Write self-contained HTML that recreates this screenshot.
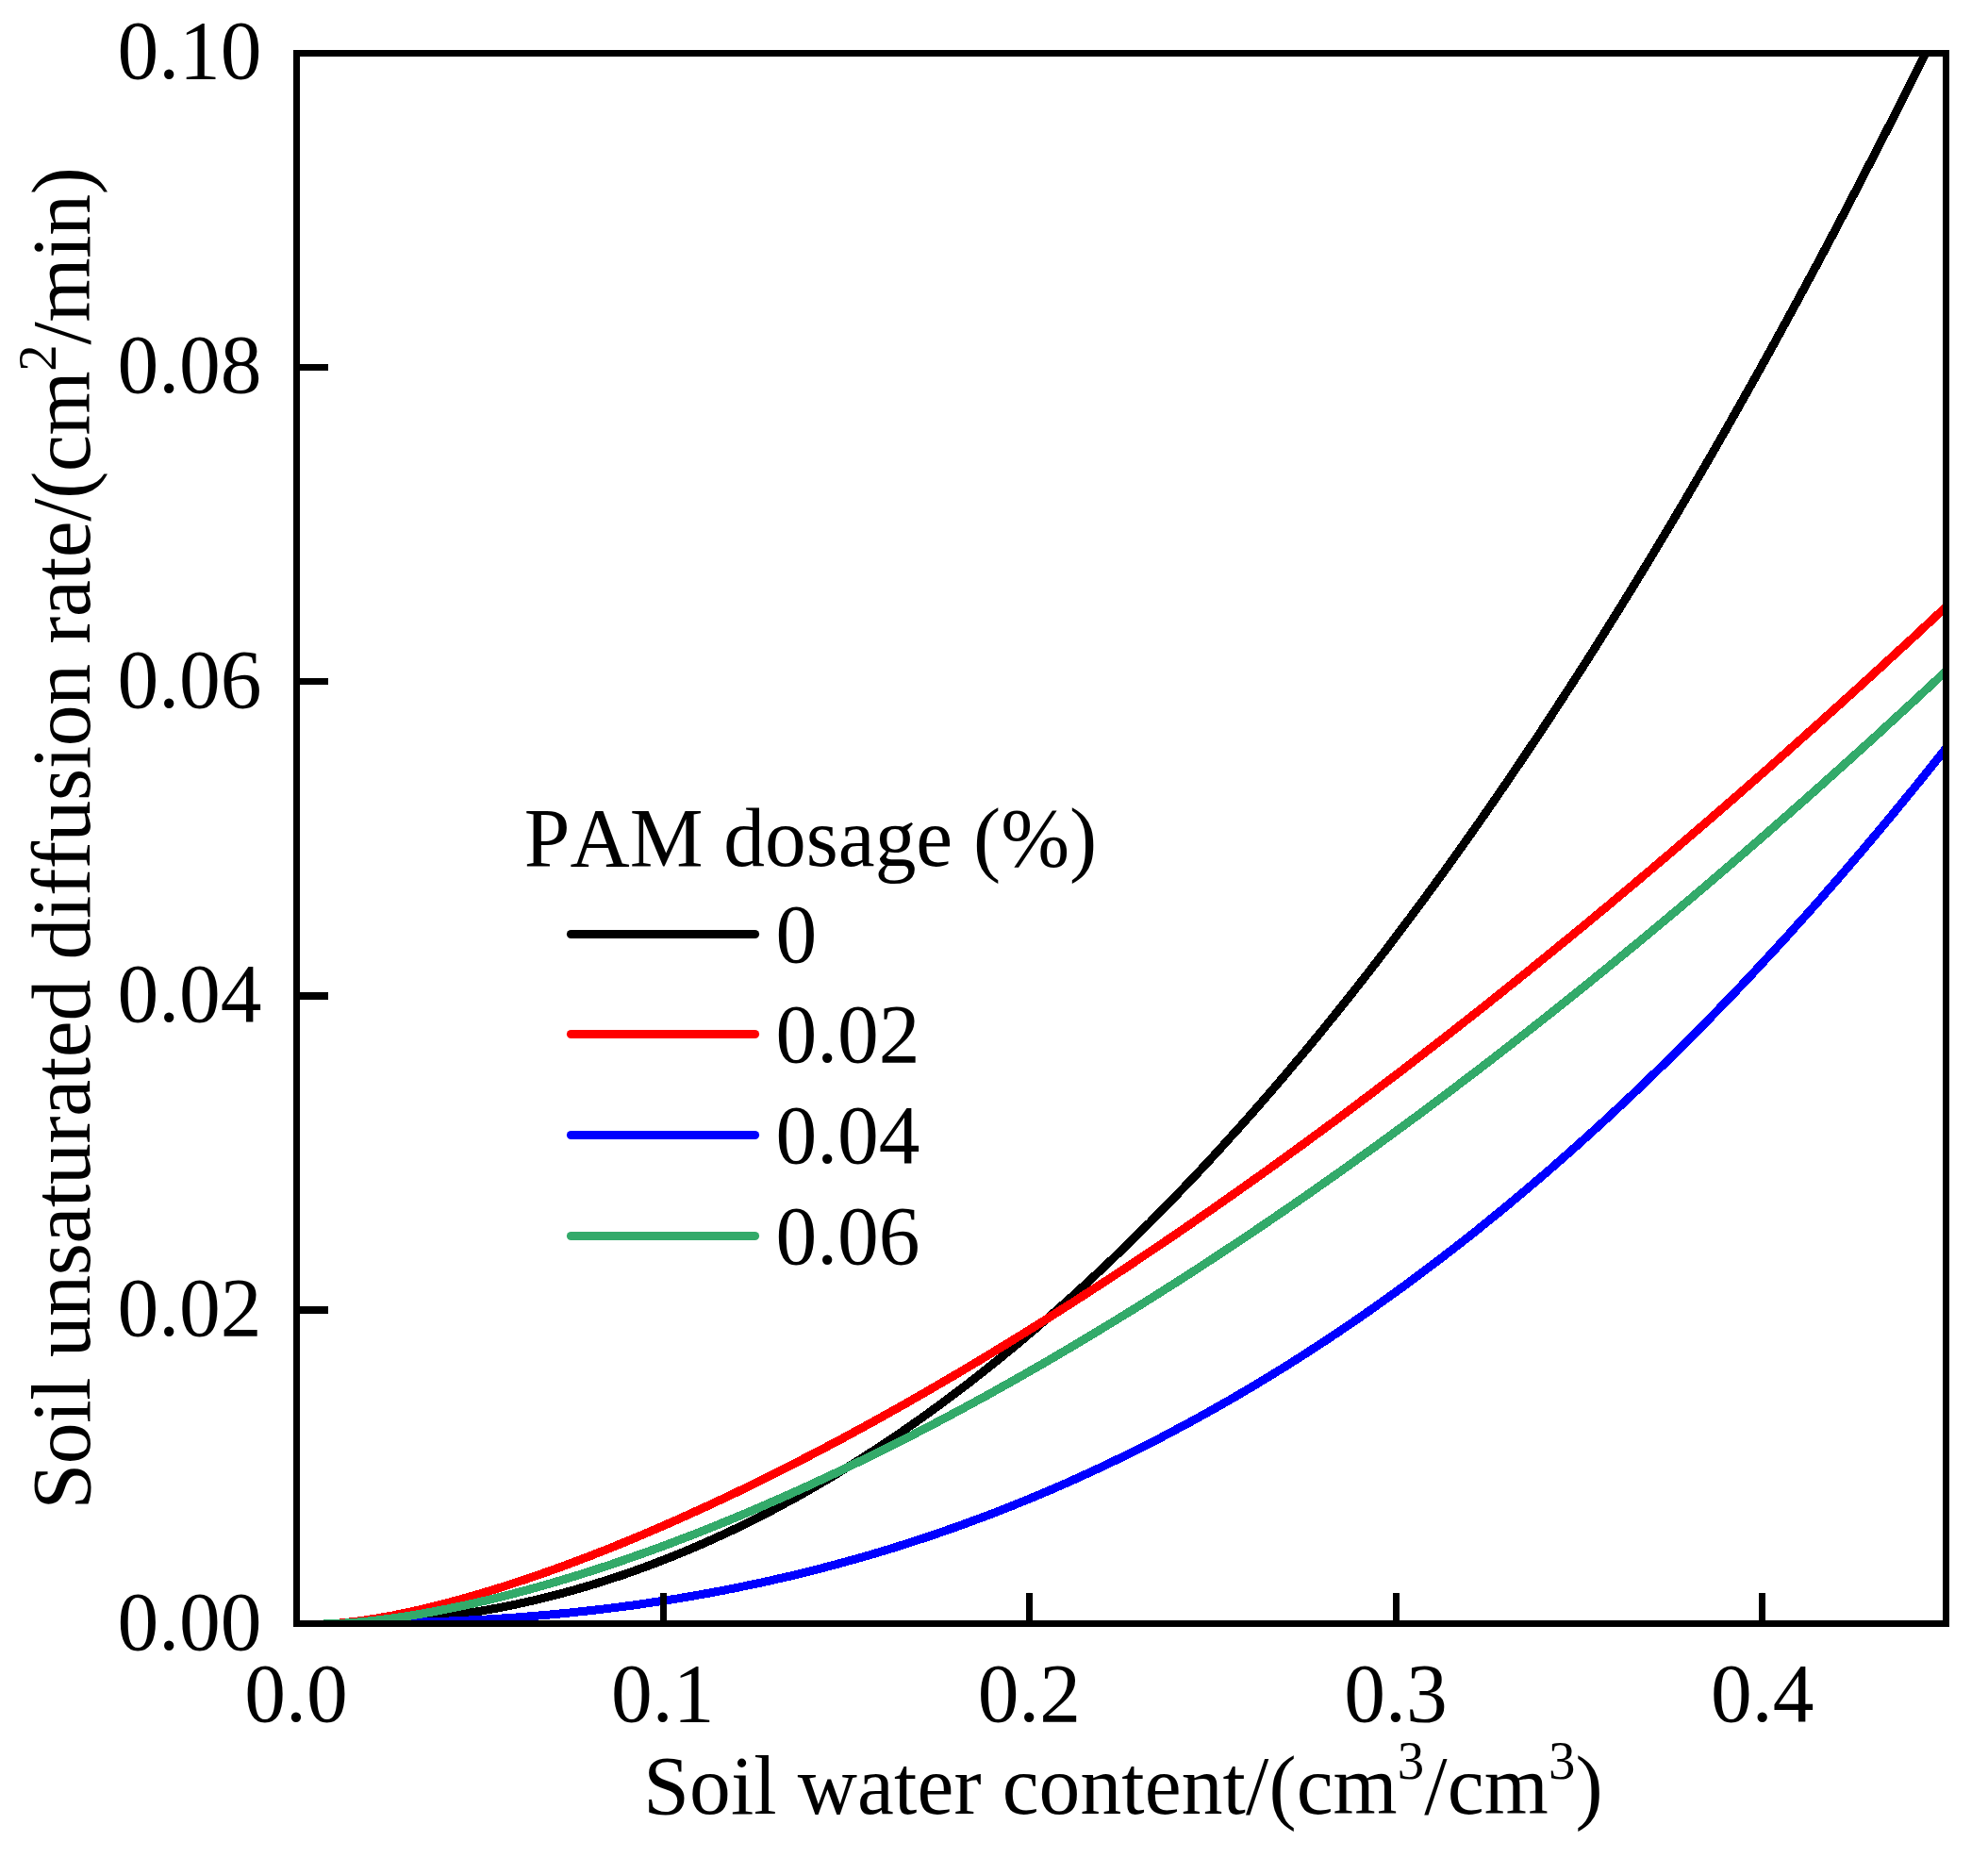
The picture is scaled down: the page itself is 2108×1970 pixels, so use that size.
<!DOCTYPE html>
<html><head><meta charset="utf-8"><title>Soil unsaturated diffusion rate</title>
<style>html,body{margin:0;padding:0;background:#fff}svg{display:block}</style></head>
<body>
<svg width="2108" height="1970" viewBox="0 0 2108 1970">
<defs><clipPath id="c"><rect x="318" y="60" width="1742" height="1658"/></clipPath></defs>
<rect x="0" y="0" width="2108" height="1970" fill="#ffffff"/>
<g clip-path="url(#c)" shape-rendering="crispEdges"><polyline points="343.0,1721.5 348.7,1721.5 356.0,1721.5 363.3,1721.4 370.5,1721.3 377.8,1721.1 385.0,1720.9 392.3,1720.6 399.5,1720.2 406.8,1719.9 414.1,1719.4 421.3,1718.9 428.6,1718.3 435.8,1717.7 443.1,1717.0 450.3,1716.3 457.6,1715.5 464.8,1714.7 472.1,1713.8 479.4,1712.8 486.6,1711.8 493.9,1710.7 501.1,1709.6 508.4,1708.4 515.6,1707.1 522.9,1705.8 530.1,1704.5 537.4,1703.0 544.7,1701.5 551.9,1700.0 559.2,1698.4 566.4,1696.7 573.7,1695.0 580.9,1693.2 588.2,1691.4 595.5,1689.5 602.7,1687.5 610.0,1685.5 617.2,1683.4 624.5,1681.3 631.7,1679.1 639.0,1676.8 646.2,1674.5 653.5,1672.1 660.8,1669.7 668.0,1667.2 675.3,1664.6 682.5,1662.0 689.8,1659.3 697.0,1656.5 704.3,1653.7 711.5,1650.9 718.8,1647.9 726.1,1644.9 733.3,1641.9 740.6,1638.8 747.8,1635.6 755.1,1632.4 762.3,1629.1 769.6,1625.7 776.9,1622.3 784.1,1618.8 791.4,1615.3 798.6,1611.7 805.9,1608.0 813.1,1604.3 820.4,1600.5 827.6,1596.6 834.9,1592.7 842.2,1588.8 849.4,1584.7 856.7,1580.6 863.9,1576.5 871.2,1572.2 878.4,1568.0 885.7,1563.6 892.9,1559.2 900.2,1554.7 907.5,1550.2 914.7,1545.6 922.0,1540.9 929.2,1536.2 936.5,1531.4 943.7,1526.6 951.0,1521.7 958.3,1516.7 965.5,1511.7 972.8,1506.6 980.0,1501.4 987.3,1496.2 994.5,1490.9 1001.8,1485.6 1009.0,1480.2 1016.3,1474.7 1023.6,1469.2 1030.8,1463.6 1038.1,1457.9 1045.3,1452.2 1052.6,1446.4 1059.8,1440.6 1067.1,1434.6 1074.3,1428.7 1081.6,1422.6 1088.9,1416.5 1096.1,1410.4 1103.4,1404.1 1110.6,1397.8 1117.9,1391.5 1125.1,1385.1 1132.4,1378.6 1139.7,1372.0 1146.9,1365.4 1154.2,1358.8 1161.4,1352.0 1168.7,1345.2 1175.9,1338.4 1183.2,1331.4 1190.4,1324.4 1197.7,1317.4 1205.0,1310.3 1212.2,1303.1 1219.5,1295.9 1226.7,1288.5 1234.0,1281.2 1241.2,1273.7 1248.5,1266.2 1255.7,1258.7 1263.0,1251.0 1270.3,1243.4 1277.5,1235.6 1284.8,1227.8 1292.0,1219.9 1299.3,1211.9 1306.5,1203.9 1313.8,1195.9 1321.1,1187.7 1328.3,1179.5 1335.6,1171.3 1342.8,1162.9 1350.1,1154.5 1357.3,1146.1 1364.6,1137.5 1371.8,1128.9 1379.1,1120.3 1386.4,1111.6 1393.6,1102.8 1400.9,1094.0 1408.1,1085.0 1415.4,1076.1 1422.6,1067.0 1429.9,1057.9 1437.1,1048.8 1444.4,1039.5 1451.7,1030.2 1458.9,1020.9 1466.2,1011.4 1473.4,1001.9 1480.7,992.4 1487.9,982.8 1495.2,973.1 1502.5,963.3 1509.7,953.5 1517.0,943.6 1524.2,933.7 1531.5,923.7 1538.7,913.6 1546.0,903.5 1553.2,893.3 1560.5,883.0 1567.8,872.7 1575.0,862.3 1582.3,851.8 1589.5,841.3 1596.8,830.7 1604.0,820.0 1611.3,809.3 1618.5,798.5 1625.8,787.7 1633.1,776.8 1640.3,765.8 1647.6,754.7 1654.8,743.6 1662.1,732.4 1669.3,721.2 1676.6,709.9 1683.9,698.5 1691.1,687.1 1698.4,675.6 1705.6,664.0 1712.9,652.4 1720.1,640.7 1727.4,628.9 1734.6,617.1 1741.9,605.2 1749.2,593.2 1756.4,581.2 1763.7,569.1 1770.9,557.0 1778.2,544.7 1785.4,532.5 1792.7,520.1 1799.9,507.7 1807.2,495.2 1814.5,482.7 1821.7,470.0 1829.0,457.4 1836.2,444.6 1843.5,431.8 1850.7,418.9 1858.0,406.0 1865.3,393.0 1872.5,379.9 1879.8,366.8 1887.0,353.6 1894.3,340.3 1901.5,327.0 1908.8,313.6 1916.0,300.1 1923.3,286.6 1930.6,273.0 1937.8,259.3 1945.1,245.6 1952.3,231.8 1959.6,217.9 1966.8,204.0 1974.1,190.0 1981.3,175.9 1988.6,161.8 1995.9,147.6 2003.1,133.4 2010.4,119.0 2017.6,104.7 2024.9,90.2 2032.1,75.7 2039.4,61.1 2046.7,46.4 2053.9,31.7 2061.2,16.9 2068.4,2.1 2075.7,-12.8 2082.9,-27.8" fill="none" stroke="#000000" stroke-width="9" stroke-linejoin="round"/>
<polyline points="343.0,1721.5 350.8,1721.5 358.0,1721.2 365.2,1720.6 372.5,1719.8 379.7,1718.9 387.0,1717.9 394.2,1716.8 401.5,1715.6 408.7,1714.3 416.0,1713.0 423.2,1711.5 430.5,1710.0 437.7,1708.5 445.0,1706.8 452.2,1705.1 459.5,1703.3 466.7,1701.5 474.0,1699.6 481.2,1697.7 488.5,1695.7 495.7,1693.7 503.0,1691.6 510.2,1689.5 517.4,1687.3 524.7,1685.1 531.9,1682.8 539.2,1680.5 546.4,1678.1 553.7,1675.7 560.9,1673.3 568.2,1670.8 575.4,1668.3 582.7,1665.7 589.9,1663.1 597.2,1660.5 604.4,1657.8 611.7,1655.1 618.9,1652.3 626.2,1649.6 633.4,1646.7 640.7,1643.9 647.9,1641.0 655.2,1638.1 662.4,1635.1 669.6,1632.1 676.9,1629.1 684.1,1626.0 691.4,1622.9 698.6,1619.8 705.9,1616.7 713.1,1613.5 720.4,1610.3 727.6,1607.0 734.9,1603.7 742.1,1600.4 749.4,1597.1 756.6,1593.7 763.9,1590.3 771.1,1586.9 778.4,1583.5 785.6,1580.0 792.9,1576.5 800.1,1572.9 807.4,1569.4 814.6,1565.8 821.8,1562.2 829.1,1558.5 836.3,1554.9 843.6,1551.2 850.8,1547.4 858.1,1543.7 865.3,1539.9 872.6,1536.1 879.8,1532.3 887.1,1528.4 894.3,1524.6 901.6,1520.7 908.8,1516.7 916.1,1512.8 923.3,1508.8 930.6,1504.8 937.8,1500.8 945.1,1496.7 952.3,1492.7 959.6,1488.6 966.8,1484.4 974.0,1480.3 981.3,1476.1 988.5,1471.9 995.8,1467.7 1003.0,1463.5 1010.3,1459.2 1017.5,1455.0 1024.8,1450.7 1032.0,1446.3 1039.3,1442.0 1046.5,1437.6 1053.8,1433.2 1061.0,1428.8 1068.3,1424.4 1075.5,1419.9 1082.8,1415.4 1090.0,1411.0 1097.3,1406.4 1104.5,1401.9 1111.8,1397.3 1119.0,1392.7 1126.2,1388.1 1133.5,1383.5 1140.7,1378.9 1148.0,1374.2 1155.2,1369.5 1162.5,1364.8 1169.7,1360.1 1177.0,1355.3 1184.2,1350.6 1191.5,1345.8 1198.7,1341.0 1206.0,1336.1 1213.2,1331.3 1220.5,1326.4 1227.7,1321.5 1235.0,1316.6 1242.2,1311.7 1249.5,1306.8 1256.7,1301.8 1264.0,1296.8 1271.2,1291.8 1278.4,1286.8 1285.7,1281.8 1292.9,1276.7 1300.2,1271.6 1307.4,1266.5 1314.7,1261.4 1321.9,1256.3 1329.2,1251.1 1336.4,1246.0 1343.7,1240.8 1350.9,1235.6 1358.2,1230.3 1365.4,1225.1 1372.7,1219.8 1379.9,1214.6 1387.2,1209.3 1394.4,1203.9 1401.7,1198.6 1408.9,1193.3 1416.2,1187.9 1423.4,1182.5 1430.6,1177.1 1437.9,1171.7 1445.1,1166.2 1452.4,1160.8 1459.6,1155.3 1466.9,1149.8 1474.1,1144.3 1481.4,1138.8 1488.6,1133.3 1495.9,1127.7 1503.1,1122.1 1510.4,1116.5 1517.6,1110.9 1524.9,1105.3 1532.1,1099.7 1539.4,1094.0 1546.6,1088.3 1553.9,1082.6 1561.1,1076.9 1568.4,1071.2 1575.6,1065.5 1582.8,1059.7 1590.1,1053.9 1597.3,1048.1 1604.6,1042.3 1611.8,1036.5 1619.1,1030.7 1626.3,1024.8 1633.6,1018.9 1640.8,1013.0 1648.1,1007.1 1655.3,1001.2 1662.6,995.3 1669.8,989.3 1677.1,983.4 1684.3,977.4 1691.6,971.4 1698.8,965.4 1706.1,959.4 1713.3,953.3 1720.6,947.2 1727.8,941.2 1735.0,935.1 1742.3,929.0 1749.5,922.9 1756.8,916.7 1764.0,910.6 1771.3,904.4 1778.5,898.2 1785.8,892.0 1793.0,885.8 1800.3,879.6 1807.5,873.3 1814.8,867.1 1822.0,860.8 1829.3,854.5 1836.5,848.2 1843.8,841.9 1851.0,835.6 1858.3,829.2 1865.5,822.9 1872.8,816.5 1880.0,810.1 1887.2,803.7 1894.5,797.3 1901.7,790.8 1909.0,784.4 1916.2,777.9 1923.5,771.4 1930.7,764.9 1938.0,758.4 1945.2,751.9 1952.5,745.4 1959.7,738.8 1967.0,732.3 1974.2,725.7 1981.5,719.1 1988.7,712.5 1996.0,705.9 2003.2,699.2 2010.5,692.6 2017.7,685.9 2025.0,679.3 2032.2,672.6 2039.4,665.9 2046.7,659.1 2053.9,652.4 2061.2,645.7 2068.4,638.9 2075.7,632.1 2082.9,625.3" fill="none" stroke="#ff0000" stroke-width="9" stroke-linejoin="round"/>
<polyline points="343.0,1721.5 343.0,1721.5 350.3,1721.5 357.6,1721.5 364.9,1721.4 372.1,1721.4 379.4,1721.3 386.7,1721.3 394.0,1721.2 401.3,1721.1 408.5,1721.0 415.8,1720.8 423.1,1720.7 430.4,1720.5 437.7,1720.3 444.9,1720.1 452.2,1719.9 459.5,1719.6 466.8,1719.4 474.1,1719.1 481.3,1718.8 488.6,1718.4 495.9,1718.1 503.2,1717.7 510.5,1717.3 517.7,1716.9 525.0,1716.4 532.3,1716.0 539.6,1715.5 546.9,1715.0 554.1,1714.4 561.4,1713.8 568.7,1713.2 576.0,1712.6 583.3,1712.0 590.5,1711.3 597.8,1710.6 605.1,1709.9 612.4,1709.1 619.7,1708.3 626.9,1707.5 634.2,1706.7 641.5,1705.8 648.8,1704.9 656.1,1704.0 663.3,1703.0 670.6,1702.1 677.9,1701.1 685.2,1700.0 692.5,1698.9 699.7,1697.8 707.0,1696.7 714.3,1695.6 721.6,1694.4 728.9,1693.1 736.1,1691.9 743.4,1690.6 750.7,1689.3 758.0,1687.9 765.3,1686.6 772.5,1685.1 779.8,1683.7 787.1,1682.2 794.4,1680.7 801.7,1679.2 808.9,1677.6 816.2,1676.0 823.5,1674.3 830.8,1672.7 838.1,1671.0 845.3,1669.2 852.6,1667.4 859.9,1665.6 867.2,1663.8 874.5,1661.9 881.7,1660.0 889.0,1658.0 896.3,1656.0 903.6,1654.0 910.9,1652.0 918.1,1649.9 925.4,1647.8 932.7,1645.6 940.0,1643.4 947.3,1641.2 954.5,1638.9 961.8,1636.6 969.1,1634.2 976.4,1631.8 983.7,1629.4 990.9,1627.0 998.2,1624.5 1005.5,1621.9 1012.8,1619.4 1020.1,1616.8 1027.3,1614.1 1034.6,1611.4 1041.9,1608.7 1049.2,1606.0 1056.5,1603.2 1063.7,1600.3 1071.0,1597.5 1078.3,1594.5 1085.6,1591.6 1092.9,1588.6 1100.1,1585.6 1107.4,1582.5 1114.7,1579.4 1122.0,1576.2 1129.3,1573.1 1136.5,1569.8 1143.8,1566.6 1151.1,1563.2 1158.4,1559.9 1165.7,1556.5 1172.9,1553.1 1180.2,1549.6 1187.5,1546.1 1194.8,1542.5 1202.1,1538.9 1209.3,1535.3 1216.6,1531.6 1223.9,1527.9 1231.2,1524.2 1238.5,1520.4 1245.7,1516.5 1253.0,1512.6 1260.3,1508.7 1267.6,1504.7 1274.9,1500.7 1282.1,1496.7 1289.4,1492.6 1296.7,1488.4 1304.0,1484.3 1311.3,1480.0 1318.5,1475.8 1325.8,1471.5 1333.1,1467.1 1340.4,1462.7 1347.7,1458.3 1354.9,1453.8 1362.2,1449.3 1369.5,1444.7 1376.8,1440.1 1384.1,1435.4 1391.3,1430.7 1398.6,1426.0 1405.9,1421.2 1413.2,1416.3 1420.5,1411.5 1427.7,1406.5 1435.0,1401.6 1442.3,1396.6 1449.6,1391.5 1456.9,1386.4 1464.1,1381.2 1471.4,1376.0 1478.7,1370.8 1486.0,1365.5 1493.3,1360.2 1500.5,1354.8 1507.8,1349.4 1515.1,1343.9 1522.4,1338.4 1529.7,1332.9 1536.9,1327.2 1544.2,1321.6 1551.5,1315.9 1558.8,1310.2 1566.1,1304.4 1573.3,1298.5 1580.6,1292.6 1587.9,1286.7 1595.2,1280.7 1602.5,1274.7 1609.7,1268.6 1617.0,1262.5 1624.3,1256.3 1631.6,1250.1 1638.9,1243.9 1646.1,1237.6 1653.4,1231.2 1660.7,1224.8 1668.0,1218.3 1675.3,1211.8 1682.5,1205.3 1689.8,1198.7 1697.1,1192.1 1704.4,1185.4 1711.7,1178.6 1718.9,1171.8 1726.2,1165.0 1733.5,1158.1 1740.8,1151.2 1748.1,1144.2 1755.3,1137.1 1762.6,1130.1 1769.9,1122.9 1777.2,1115.7 1784.5,1108.5 1791.7,1101.2 1799.0,1093.9 1806.3,1086.5 1813.6,1079.1 1820.9,1071.6 1828.1,1064.1 1835.4,1056.5 1842.7,1048.9 1850.0,1041.2 1857.3,1033.5 1864.5,1025.7 1871.8,1017.8 1879.1,1010.0 1886.4,1002.0 1893.7,994.1 1900.9,986.0 1908.2,977.9 1915.5,969.8 1922.8,961.6 1930.1,953.4 1937.3,945.1 1944.6,936.8 1951.9,928.4 1959.2,919.9 1966.5,911.4 1973.7,902.9 1981.0,894.3 1988.3,885.6 1995.6,876.9 2002.9,868.2 2010.1,859.4 2017.4,850.5 2024.7,841.6 2032.0,832.7 2039.3,823.7 2046.5,814.6 2053.8,805.5 2061.1,796.3 2068.4,787.1 2075.7,777.8 2082.9,768.5" fill="none" stroke="#0000ff" stroke-width="9" stroke-linejoin="round"/>
<polyline points="343.0,1721.5 351.5,1721.5 358.7,1721.3 366.0,1721.0 373.2,1720.5 380.5,1719.9 387.7,1719.3 394.9,1718.5 402.2,1717.7 409.4,1716.8 416.7,1715.8 423.9,1714.8 431.2,1713.7 438.4,1712.5 445.7,1711.3 452.9,1710.0 460.1,1708.7 467.4,1707.3 474.6,1705.9 481.9,1704.4 489.1,1702.9 496.4,1701.3 503.6,1699.7 510.9,1698.0 518.1,1696.3 525.3,1694.6 532.6,1692.8 539.8,1690.9 547.1,1689.0 554.3,1687.1 561.6,1685.1 568.8,1683.1 576.1,1681.1 583.3,1679.0 590.5,1676.9 597.8,1674.7 605.0,1672.5 612.3,1670.3 619.5,1668.0 626.8,1665.7 634.0,1663.3 641.3,1661.0 648.5,1658.6 655.8,1656.1 663.0,1653.6 670.2,1651.1 677.5,1648.5 684.7,1646.0 692.0,1643.3 699.2,1640.7 706.5,1638.0 713.7,1635.3 721.0,1632.5 728.2,1629.8 735.4,1627.0 742.7,1624.1 749.9,1621.2 757.2,1618.3 764.4,1615.4 771.7,1612.4 778.9,1609.4 786.2,1606.4 793.4,1603.4 800.6,1600.3 807.9,1597.2 815.1,1594.0 822.4,1590.9 829.6,1587.7 836.9,1584.4 844.1,1581.2 851.4,1577.9 858.6,1574.6 865.8,1571.2 873.1,1567.9 880.3,1564.5 887.6,1561.1 894.8,1557.6 902.1,1554.1 909.3,1550.6 916.6,1547.1 923.8,1543.6 931.0,1540.0 938.3,1536.4 945.5,1532.7 952.8,1529.1 960.0,1525.4 967.3,1521.7 974.5,1517.9 981.8,1514.2 989.0,1510.4 996.2,1506.6 1003.5,1502.7 1010.7,1498.9 1018.0,1495.0 1025.2,1491.1 1032.5,1487.1 1039.7,1483.2 1047.0,1479.2 1054.2,1475.2 1061.4,1471.1 1068.7,1467.1 1075.9,1463.0 1083.2,1458.9 1090.4,1454.7 1097.7,1450.6 1104.9,1446.4 1112.2,1442.2 1119.4,1438.0 1126.6,1433.7 1133.9,1429.5 1141.1,1425.2 1148.4,1420.8 1155.6,1416.5 1162.9,1412.1 1170.1,1407.7 1177.4,1403.3 1184.6,1398.9 1191.8,1394.4 1199.1,1390.0 1206.3,1385.5 1213.6,1380.9 1220.8,1376.4 1228.1,1371.8 1235.3,1367.2 1242.6,1362.6 1249.8,1358.0 1257.1,1353.3 1264.3,1348.7 1271.5,1344.0 1278.8,1339.2 1286.0,1334.5 1293.3,1329.7 1300.5,1324.9 1307.8,1320.1 1315.0,1315.3 1322.3,1310.5 1329.5,1305.6 1336.7,1300.7 1344.0,1295.8 1351.2,1290.8 1358.5,1285.9 1365.7,1280.9 1373.0,1275.9 1380.2,1270.9 1387.5,1265.9 1394.7,1260.8 1401.9,1255.7 1409.2,1250.6 1416.4,1245.5 1423.7,1240.4 1430.9,1235.2 1438.2,1230.0 1445.4,1224.8 1452.7,1219.6 1459.9,1214.4 1467.1,1209.1 1474.4,1203.8 1481.6,1198.5 1488.9,1193.2 1496.1,1187.9 1503.4,1182.5 1510.6,1177.1 1517.9,1171.7 1525.1,1166.3 1532.3,1160.8 1539.6,1155.4 1546.8,1149.9 1554.1,1144.4 1561.3,1138.9 1568.6,1133.4 1575.8,1127.8 1583.1,1122.2 1590.3,1116.6 1597.5,1111.0 1604.8,1105.4 1612.0,1099.7 1619.3,1094.1 1626.5,1088.4 1633.8,1082.7 1641.0,1076.9 1648.3,1071.2 1655.5,1065.4 1662.7,1059.6 1670.0,1053.8 1677.2,1048.0 1684.5,1042.2 1691.7,1036.3 1699.0,1030.4 1706.2,1024.5 1713.5,1018.6 1720.7,1012.7 1727.9,1006.7 1735.2,1000.8 1742.4,994.8 1749.7,988.8 1756.9,982.7 1764.2,976.7 1771.4,970.6 1778.7,964.6 1785.9,958.5 1793.2,952.3 1800.4,946.2 1807.6,940.1 1814.9,933.9 1822.1,927.7 1829.4,921.5 1836.6,915.3 1843.9,909.0 1851.1,902.8 1858.4,896.5 1865.6,890.2 1872.8,883.9 1880.1,877.6 1887.3,871.2 1894.6,864.9 1901.8,858.5 1909.1,852.1 1916.3,845.7 1923.6,839.2 1930.8,832.8 1938.0,826.3 1945.3,819.8 1952.5,813.3 1959.8,806.8 1967.0,800.3 1974.3,793.7 1981.5,787.2 1988.8,780.6 1996.0,774.0 2003.2,767.3 2010.5,760.7 2017.7,754.0 2025.0,747.4 2032.2,740.7 2039.5,734.0 2046.7,727.2 2054.0,720.5 2061.2,713.7 2068.4,707.0 2075.7,700.2 2082.9,693.4" fill="none" stroke="#33aa6a" stroke-width="9" stroke-linejoin="round"/></g>
<g fill="#000" shape-rendering="crispEdges">
<rect x="311" y="53" width="1756" height="7"/><rect x="311" y="1718" width="1756" height="7"/>
<rect x="311" y="53" width="7" height="1672"/><rect x="2060" y="53" width="7" height="1672"/>
<rect x="700" y="1689" width="7" height="29"/>
<rect x="1088" y="1689" width="7" height="29"/>
<rect x="1477" y="1689" width="7" height="29"/>
<rect x="1865" y="1689" width="7" height="29"/>
<rect x="318" y="386" width="30" height="7"/>
<rect x="318" y="719" width="30" height="7"/>
<rect x="318" y="1052" width="30" height="8"/>
<rect x="318" y="1385" width="30" height="8"/>
</g>
<g font-family="'Liberation Serif', 'Times New Roman', serif" font-size="87.5" fill="#000" style="font-kerning:none;font-variant-ligatures:none;font-feature-settings:'liga' 0,'clig' 0,'kern' 0">
<text transform="translate(277.5,1749.0) scale(1,1.02)" text-anchor="end">0.00</text>
<text transform="translate(277.5,1415.8) scale(1,1.02)" text-anchor="end">0.02</text>
<text transform="translate(277.5,1082.7) scale(1,1.02)" text-anchor="end">0.04</text>
<text transform="translate(277.5,749.6) scale(1,1.02)" text-anchor="end">0.06</text>
<text transform="translate(277.5,416.4) scale(1,1.02)" text-anchor="end">0.08</text>
<text transform="translate(277.5,83.2) scale(1,1.02)" text-anchor="end">0.10</text>
<text transform="translate(314.0,1825.3) scale(1,1.02)" text-anchor="middle">0.0</text>
<text transform="translate(702.7,1825.3) scale(1,1.02)" text-anchor="middle">0.1</text>
<text transform="translate(1091.3,1825.3) scale(1,1.02)" text-anchor="middle">0.2</text>
<text transform="translate(1480.0,1825.3) scale(1,1.02)" text-anchor="middle">0.3</text>
<text transform="translate(1868.7,1825.3) scale(1,1.02)" text-anchor="middle">0.4</text>
<text transform="translate(1191,1923) scale(1,1.02)" text-anchor="middle" letter-spacing="0.12">Soil water content/(cm<tspan font-size="56.9" dy="-35.8">3</tspan><tspan dy="35.8">/cm</tspan><tspan font-size="56.9" dy="-35.8">3</tspan><tspan dy="35.8">)</tspan></text>
<text transform="translate(95.3,889) rotate(-90) scale(1,1.02)" text-anchor="middle" letter-spacing="-0.29">Soil unsaturated diffusion rate/(cm<tspan font-size="56.9" dy="-35.8">2</tspan><tspan dy="35.8">/min)</tspan></text>
<text transform="translate(555.8,918.3) scale(1,1.02)">PAM dosage (%)</text>
<line x1="605.5" x2="800.5" y1="990.5" y2="990.5" stroke="#000000" stroke-width="9.2" stroke-linecap="round"/>
<text transform="translate(822.5,1020.1) scale(1,1.02)">0</text>
<line x1="605.5" x2="800.5" y1="1096.5" y2="1096.5" stroke="#ff0000" stroke-width="9.2" stroke-linecap="round"/>
<text transform="translate(822.5,1126.1) scale(1,1.02)">0.02</text>
<line x1="605.5" x2="800.5" y1="1203.5" y2="1203.5" stroke="#0000ff" stroke-width="9.2" stroke-linecap="round"/>
<text transform="translate(822.5,1233.1) scale(1,1.02)">0.04</text>
<line x1="605.5" x2="800.5" y1="1310.5" y2="1310.5" stroke="#33aa6a" stroke-width="9.2" stroke-linecap="round"/>
<text transform="translate(822.5,1340.1) scale(1,1.02)">0.06</text>
</g></svg>
</body></html>
